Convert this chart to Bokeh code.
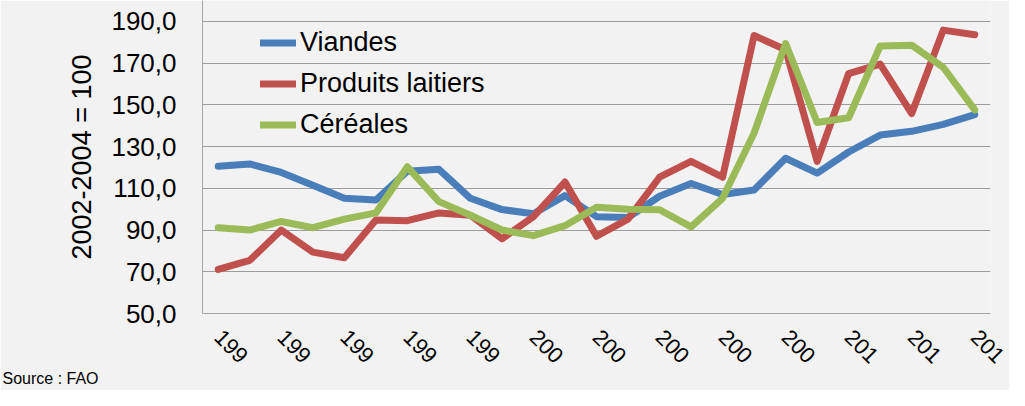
from bokeh.plotting import figure
from bokeh.models import Range1d, FixedTicker, Legend, LegendItem, Label
from bokeh.embed import file_html
from bokeh.resources import INLINE

years = list(range(1990, 2015))
viandes = [120.6, 121.7, 117.6, 111.5, 105.2, 104.4, 118.2, 119.1, 105.2, 99.8,
           97.8, 106.5, 96.4, 96.0, 106.2, 112.3, 107.0, 109.2, 124.4, 117.3,
           127.4, 135.5, 137.3, 140.6, 145.3]
laitiers = [71.1, 75.5, 90.0, 79.4, 76.7, 94.8, 94.5, 98.2, 97.1, 85.8,
            96.4, 113.0, 87.0, 95.2, 115.3, 122.9, 115.3, 183.2, 176.4, 122.9,
            165.0, 169.5, 145.8, 185.8, 183.6]
cereales = [91.1, 90.0, 94.1, 91.1, 95.2, 98.2, 120.3, 103.6, 97.1, 90.0,
            87.3, 92.1, 100.9, 100.0, 99.7, 91.5, 105.2, 136.5, 179.4, 141.5,
            143.8, 178.2, 178.6, 168.0, 147.6]
series_names = ["Viandes", "Produits laitiers", "Céréales"]
colors = ["#4A7EBB", "#C0504D", "#9BBB59"]
tick_years = list(range(1990, 2015, 2))
tick_labels = ["199", "199", "199", "199", "199", "200", "200", "200", "200",
               "200", "201", "201", "201"]
y_ticks = [50, 70, 90, 110, 130, 150, 170, 190]
y_labels = ["50,0", "70,0", "90,0", "110,0", "130,0", "150,0", "170,0", "190,0"]
source_text = "Source : FAO"

BG = "#F2F2F2"
FONT = "Liberation Sans"

p = figure(width=1009, height=390,
           output_backend="svg", toolbar_location=None,
           x_range=Range1d(1989.5, 2014.5), y_range=Range1d(50, 200),
           min_border_left=202, min_border_right=19, min_border_top=0,
           min_border_bottom=0)
p.background_fill_color = BG
p.border_fill_color = BG
p.outline_line_color = None

# y axis
p.yaxis.ticker = FixedTicker(ticks=y_ticks)
p.yaxis.major_label_overrides = dict(zip(y_ticks, y_labels))
p.yaxis.axis_label = "2002-2004 = 100"
p.yaxis.axis_label_text_font = FONT
p.yaxis.axis_label_text_font_size = "27px"
p.yaxis.axis_label_text_font_style = "normal"
p.yaxis.axis_label_text_color = "#000000"
p.yaxis.axis_label_standoff = 11
p.yaxis.major_label_text_font = FONT
p.yaxis.major_label_text_font_size = "26px"
p.yaxis.major_label_text_color = "#000000"
p.yaxis.major_label_standoff = 26
p.yaxis.major_tick_out = 0
p.yaxis.major_tick_in = 0
p.yaxis.axis_line_color = "#A6A6A6"
p.yaxis.major_tick_line_color = None
p.yaxis.minor_tick_line_color = None

# x axis
p.xaxis.ticker = FixedTicker(ticks=tick_years)
p.xaxis.major_label_overrides = dict(zip(tick_years, tick_labels))
p.xaxis.major_label_orientation = -0.785398
p.xaxis.major_label_text_font = FONT
p.xaxis.major_label_text_font_size = "22px"
p.xaxis.major_label_text_color = "#000000"
p.xaxis.major_label_standoff = 20
p.xaxis.major_tick_out = 0
p.xaxis.major_tick_in = 0
p.xaxis.axis_line_color = "#A6A6A6"
p.xaxis.major_tick_line_color = None
p.xaxis.minor_tick_line_color = None

p.xgrid.grid_line_color = None
p.ygrid.grid_line_color = "#9C9C9C"
p.ygrid.grid_line_width = 1

items = []
for name, vals, col in zip(series_names, [viandes, laitiers, cereales], colors):
    r = p.line(years, vals, line_color=col, line_width=7,
               line_join="round", line_cap="round")
    items.append(LegendItem(label=name, renderers=[r]))

legend = Legend(items=items, location=(58, 169), margin=0, padding=0,
                spacing=2, glyph_width=36, glyph_height=39, label_standoff=4,
                label_text_font=FONT, label_text_font_size="27px",
                label_text_color="#000000",
                background_fill_alpha=0, border_line_color=None)
p.add_layout(legend)

src = Label(x=-200, y=12, x_units="screen", y_units="screen",
            text=source_text, text_font=FONT, text_font_size="16px",
            text_color="#000000", text_baseline="alphabetic")
p.add_layout(src, "below")

open("out.html", "w").write(file_html(p, INLINE))
